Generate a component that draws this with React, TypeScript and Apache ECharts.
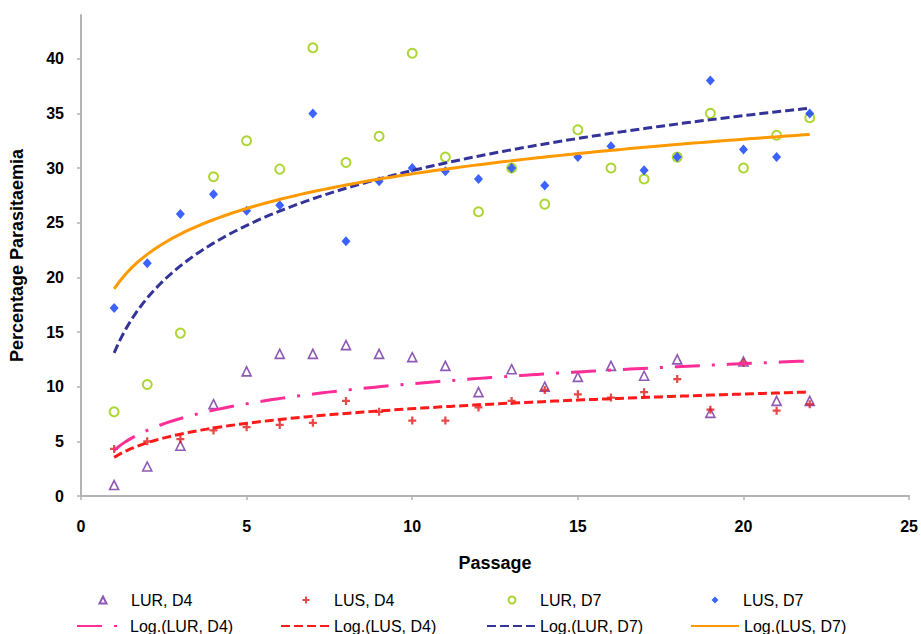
import React, { useEffect, useRef } from "react";
import * as echarts from "echarts";

// Passage numbers (x values)
const passages = [1, 2, 3, 4, 5, 6, 7, 8, 9, 10, 11, 12, 13, 14, 15, 16, 17, 18, 19, 20, 21, 22];

// Percentage parasitaemia
const lurD4 = [1.0, 2.7, 4.6, 8.4, 11.4, 13.0, 13.0, 13.8, 13.0, 12.7, 11.9, 9.5, 11.6, 10.0, 10.9, 11.9, 11.0, 12.5, 7.6, 12.3, 8.7, 8.7];
const lusD4 = [4.3, 5.0, 5.2, 6.0, 6.3, 6.5, 6.7, 8.7, 7.7, 6.9, 6.9, 8.1, 8.7, 9.7, 9.3, 9.0, 9.5, 10.7, 7.9, 12.2, 7.8, 8.4];
const lurD7 = [7.7, 10.2, 14.9, 29.2, 32.5, 29.9, 41.0, 30.5, 32.9, 40.5, 31.0, 26.0, 30.0, 26.7, 33.5, 30.0, 29.0, 31.0, 35.0, 30.0, 33.0, 34.6];
const lusD7 = [17.2, 21.3, 25.8, 27.6, 26.1, 26.6, 35.0, 23.3, 28.8, 30.0, 29.7, 29.0, 30.0, 28.4, 31.0, 32.0, 29.8, 31.0, 38.0, 31.7, 31.0, 35.0];

// Axis ticks
const xTicks = [0, 5, 10, 15, 20, 25];
const yTicks = [0, 5, 10, 15, 20, 25, 30, 35, 40];

const seriesNames = ["LUR, D4", "LUS, D4", "LUR, D7", "LUS, D7"];
const trendNames = ["Log.(LUR, D4)", "Log.(LUS, D4)", "Log.(LUR, D7)", "Log.(LUS, D7)"];

const FONT = "Liberation Sans, Arial, sans-serif";
const plusPath = "path://M3.6,0H6.4V3.6H10V6.4H6.4V10H3.6V6.4H0V3.6H3.6Z";

// Excel-style logarithmic trendline: y = a*ln(x) + b (least squares)
function logFit(xs: number[], ys: number[]) {
  const n = xs.length;
  const lx = xs.map((x) => Math.log(x));
  const mx = lx.reduce((s, v) => s + v, 0) / n;
  const my = ys.reduce((s, v) => s + v, 0) / n;
  let sxy = 0;
  let sxx = 0;
  for (let i = 0; i < n; i++) {
    sxy += (lx[i] - mx) * (ys[i] - my);
    sxx += (lx[i] - mx) * (lx[i] - mx);
  }
  const a = sxy / sxx;
  return { a, b: my - a * mx };
}

function trendData(xs: number[], ys: number[]) {
  const { a, b } = logFit(xs, ys);
  const x0 = xs[0];
  const x1 = xs[xs.length - 1];
  const pts: number[][] = [];
  const steps = 120;
  for (let i = 0; i <= steps; i++) {
    const x = x0 + ((x1 - x0) * i) / steps;
    pts.push([x, a * Math.log(x) + b]);
  }
  return pts;
}

const pair = (ys: number[]) => passages.map((x, i) => [x, ys[i]]);

export default function App() {
  const ref = useRef<HTMLDivElement>(null);

  useEffect(() => {
    document.body.style.margin = "0";
    if (!ref.current) return;
    const chart = echarts.init(ref.current, undefined, { renderer: "svg" });

    const axisLineStyle = { color: "#b3b3b3", width: 2 };
    const legendText = { fontFamily: FONT, fontSize: 16, color: "#000" };

    const rowScatter = [
      { name: seriesNames[0], center: 102 },
      { name: seriesNames[1], center: 306 },
      { name: seriesNames[2], center: 511 },
      { name: seriesNames[3], center: 715 },
    ].map((l) => ({
      show: true,
      data: [l.name],
      left: l.center - 3.5,
      top: 592,
      itemWidth: 7,
      itemHeight: 7,
      symbolKeepAspect: true,
      padding: 0,
      textStyle: { ...legendText, padding: [0, 0, 0, 19.5] },
    }));

    const rowLines = [
      { name: trendNames[0], left: 76 },
      { name: trendNames[1], left: 280 },
      { name: trendNames[2], left: 486 },
      { name: trendNames[3], left: 690 },
    ].map((l) => ({
      show: true,
      data: [l.name],
      left: l.left,
      top: 618,
      itemWidth: 48,
      itemHeight: 14,
      padding: 0,
      itemStyle: { color: "rgba(0,0,0,0)", borderWidth: 0, opacity: 0 },
      textStyle: legendText,
    }));

    chart.setOption({
      animation: false,
      backgroundColor: "#fff",
      textStyle: { fontFamily: FONT },
      grid: { left: 80, top: 15, width: 830, height: 481, containLabel: false },
      legend: [...rowScatter, ...rowLines],
      xAxis: {
        type: "value",
        min: 0,
        max: 25,
        interval: 5,
        name: "Passage",
        nameLocation: "middle",
        nameGap: 58,
        nameTextStyle: { fontFamily: FONT, fontSize: 18, fontWeight: "bold", color: "#000" },
        axisLine: { show: true, lineStyle: axisLineStyle },
        axisTick: { show: true, length: 4, inside: false, lineStyle: { color: "#b3b3b3", width: 1.5 }, customValues: xTicks },
        axisLabel: { customValues: xTicks, margin: 22, fontFamily: FONT, fontSize: 16, fontWeight: "bold", color: "#000" },
        splitLine: { show: false },
      },
      yAxis: {
        type: "value",
        min: 0,
        max: 44,
        interval: 5,
        name: "Percentage Parasitaemia",
        nameLocation: "middle",
        nameGap: 55,
        nameTextStyle: { fontFamily: FONT, fontSize: 18, fontWeight: "bold", color: "#000" },
        axisLine: { show: true, lineStyle: axisLineStyle },
        axisTick: { show: true, length: 4, lineStyle: { color: "#b3b3b3", width: 1.5 }, customValues: yTicks },
        axisLabel: {
          customValues: yTicks,
          margin: 17,
          fontFamily: FONT,
          fontSize: 16,
          fontWeight: "bold",
          color: "#000",
        },
        splitLine: { show: false },
      },
      series: [
        {
          name: seriesNames[0],
          type: "scatter",
          data: pair(lurD4),
          symbol: "triangle",
          symbolSize: 9,
          symbolKeepAspect: true,
          itemStyle: { color: "#fff", borderColor: "#7030a0", borderWidth: 1.6 },
          z: 2,
        },
        {
          name: seriesNames[1],
          type: "scatter",
          data: pair(lusD4),
          symbol: plusPath,
          symbolSize: 8,
          symbolKeepAspect: true,
          itemStyle: { color: "#e01b1b" },
          z: 2,
        },
        {
          name: seriesNames[2],
          type: "scatter",
          data: pair(lurD7),
          symbol: "circle",
          symbolSize: 9,
          itemStyle: { color: "#fff", borderColor: "#99cc00", borderWidth: 2 },
          z: 2,
        },
        {
          name: seriesNames[3],
          type: "scatter",
          data: pair(lusD7),
          symbol: "diamond",
          symbolSize: [9, 10],
          symbolKeepAspect: true,
          itemStyle: { color: "#0b3bff" },
          z: 2,
        },
        {
          name: trendNames[0],
          type: "line",
          data: trendData(passages, lurD4),
          showSymbol: false,
          symbol: "none",
          lineStyle: { color: "#ff2d96", width: 3, type: [25, 12, 3, 12] },
          itemStyle: { color: "#ff2d96" },
          z: 3,
        },
        {
          name: trendNames[1],
          type: "line",
          data: trendData(passages, lusD4),
          showSymbol: false,
          symbol: "none",
          lineStyle: { color: "#ff1a1a", width: 3, type: [9, 4] },
          itemStyle: { color: "#ff1a1a" },
          z: 3,
        },
        {
          name: trendNames[2],
          type: "line",
          data: trendData(passages, lurD7),
          showSymbol: false,
          symbol: "none",
          lineStyle: { color: "#333399", width: 3, type: [9, 4] },
          itemStyle: { color: "#333399" },
          z: 3,
        },
        {
          name: trendNames[3],
          type: "line",
          data: trendData(passages, lusD7),
          showSymbol: false,
          symbol: "none",
          lineStyle: { color: "#ff9900", width: 3, type: "solid" },
          itemStyle: { color: "#ff9900" },
          z: 3,
        },
      ],
    });

    return () => {
      chart.dispose();
    };
  }, []);

  return <div ref={ref} style={{ width: 921, height: 634 }} />;
}
